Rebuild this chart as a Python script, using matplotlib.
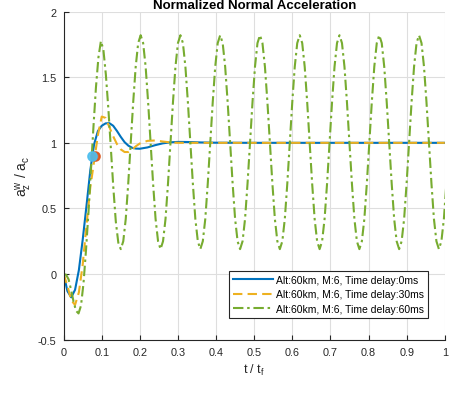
import numpy as np
import matplotlib
matplotlib.use("Agg")
import matplotlib.pyplot as plt

plt.rcParams['font.family'] = ['Liberation Sans', 'DejaVu Sans']
plt.rcParams['mathtext.fontset'] = 'custom'
plt.rcParams['mathtext.rm'] = 'Liberation Sans'
plt.rcParams['mathtext.it'] = 'Liberation Sans'

# 시간축 (0ms, 30ms 응답)
t_resp = [0.00, 0.01, 0.02, 0.03, 0.04, 0.05, 0.06, 0.07, 0.08, 0.09,
          0.10, 0.11, 0.12, 0.13, 0.14, 0.15, 0.16, 0.17, 0.18, 0.19,
          0.20, 0.22, 0.24, 0.26, 0.28, 0.30, 0.33, 0.36, 0.40, 0.50,
          0.60, 0.70, 0.80, 0.90, 1.00]

# Time delay 0ms
acc_0ms = [0.00, -0.13, -0.177, -0.12, 0.03, 0.26, 0.52, 0.79, 0.99, 1.09,
           1.13, 1.148, 1.15, 1.13, 1.09, 1.045, 1.005, 0.978, 0.962, 0.956,
           0.955, 0.965, 0.982, 0.996, 1.004, 1.007, 1.006, 1.003, 1.001, 1.00,
           1.00, 1.00, 1.00, 1.00, 1.00]

# Time delay 30ms
acc_30ms = [0.00, -0.09, -0.20, -0.235, -0.14, 0.07, 0.37, 0.66, 0.86, 1.06,
            1.20, 1.19, 1.12, 1.05, 0.99, 0.95, 0.93, 0.93, 0.95, 0.975,
            0.995, 1.015, 1.018, 1.01, 1.003, 1.00, 1.00, 1.00, 1.00, 1.00,
            1.00, 1.00, 1.00, 1.00, 1.00]

# Time delay 60ms (샘플 간격 dt_60)
dt_60 = 0.00652
acc_60ms = [0.00, -0.005, -0.04, -0.12, -0.21, -0.28, -0.30, -0.24, -0.07, 0.18,
            0.47, 0.80, 1.12, 1.42, 1.65, 1.775, 1.71, 1.52, 1.26, 0.96,
            0.66, 0.40, 0.24, 0.19,
            0.25, 0.42, 0.69, 1.00, 1.31, 1.58, 1.76, 1.82, 1.76, 1.58, 1.31, 1.00, 0.69, 0.42, 0.25, 0.19,
            0.25, 0.42, 0.69, 1.00, 1.31, 1.58, 1.76, 1.82, 1.76, 1.58, 1.31, 1.00, 0.69, 0.42, 0.25, 0.19,
            0.25, 0.42, 0.69, 1.00, 1.31, 1.58, 1.76, 1.82, 1.76, 1.58, 1.31, 1.00, 0.69, 0.42, 0.25, 0.19,
            0.25, 0.42, 0.69, 1.00, 1.31, 1.58, 1.76, 1.82, 1.76, 1.58, 1.31, 1.00, 0.69, 0.42, 0.25, 0.19,
            0.25, 0.42, 0.69, 1.00, 1.31, 1.58, 1.76, 1.82, 1.76, 1.58, 1.31, 1.00, 0.69, 0.42, 0.25, 0.19,
            0.25, 0.42, 0.69, 1.00, 1.31, 1.58, 1.76, 1.82, 1.76, 1.58, 1.31, 1.00, 0.69, 0.42, 0.25, 0.19,
            0.25, 0.42, 0.69, 1.00, 1.31, 1.58, 1.76, 1.82, 1.76, 1.58, 1.31, 1.00, 0.69, 0.42, 0.25, 0.19,
            0.25, 0.42, 0.69, 1.00, 1.31, 1.58, 1.76, 1.82, 1.76, 1.58, 1.31, 1.00, 0.69, 0.42, 0.25, 0.19,
            0.25, 0.42, 0.69]
t_60 = np.arange(len(acc_60ms)) * dt_60

# 0.9 도달 지점 마커
mark_t = [0.083, 0.074]
mark_v = [0.9, 0.9]
mark_colors = ['#D95319', '#4DBEEE']

labels = ['Alt:60km, M:6, Time delay:0ms',
          'Alt:60km, M:6, Time delay:30ms',
          'Alt:60km, M:6, Time delay:60ms']
xticks = [0, 0.1, 0.2, 0.3, 0.4, 0.5, 0.6, 0.7, 0.8, 0.9, 1]
xticklabels = ['0', '0.1', '0.2', '0.3', '0.4', '0.5', '0.6', '0.7', '0.8', '0.9', '1']
yticks = [-0.5, 0, 0.5, 1, 1.5, 2]
yticklabels = ['-0.5', '0', '0.5', '1', '1.5', '2']

fig = plt.figure(figsize=(4.58, 4.02), dpi=100)
ax = fig.add_axes([0.1389, 0.1525, 0.8323, 0.8162])

ax.plot(t_resp, acc_0ms, color='#0072BD', lw=1.5, label=labels[0])
ax.plot(t_resp, acc_30ms, color='#EDB120', lw=1.5, ls=(0, (4.5, 2.5)), label=labels[1])
ax.plot(t_60, acc_60ms, color='#77AC30', lw=1.5, ls=(0, (5, 1.8, 1.2, 1.8)), label=labels[2])

for x, y, c in zip(mark_t, mark_v, mark_colors):
    ax.plot(x, y, 'o', ms=6.5, mfc=c, mec=c, mew=1.2, alpha=0.9)

ax.set_xlim(0, 1)
ax.set_ylim(-0.5, 2)
ax.set_xticks(xticks)
ax.set_xticklabels(xticklabels)
ax.set_yticks(yticks)
ax.set_yticklabels(yticklabels)
ax.grid(True, color='#dedede', lw=0.8)
ax.set_axisbelow(True)
ax.tick_params(direction='in', length=3.5, width=0.8, labelsize=7.8, colors='#262626', pad=5)
for s in ['top', 'right']:
    ax.spines[s].set_visible(False)
for s in ['left', 'bottom']:
    ax.spines[s].set_color('#262626')
    ax.spines[s].set_linewidth(0.8)

ax.set_xlabel(r'$\mathrm{t\ /\ t_f}$', fontsize=9, color='#262626', labelpad=4)
ax.set_ylabel(r'$\mathrm{a_z^w\ /\ a_c}$', fontsize=10, color='#262626', labelpad=3)
ax.set_title('Normalized Normal Acceleration', fontsize=9.5, fontweight='bold', pad=2.5)

leg = ax.legend(loc='lower right', bbox_to_anchor=(0.956, 0.066), fontsize=7.5,
                fancybox=False, framealpha=1, edgecolor='#262626', borderpad=0.4,
                handlelength=3.8, handletextpad=0.3, labelspacing=0.42, borderaxespad=0)
leg.get_frame().set_linewidth(0.8)

fig.savefig('out.png', dpi=100)
